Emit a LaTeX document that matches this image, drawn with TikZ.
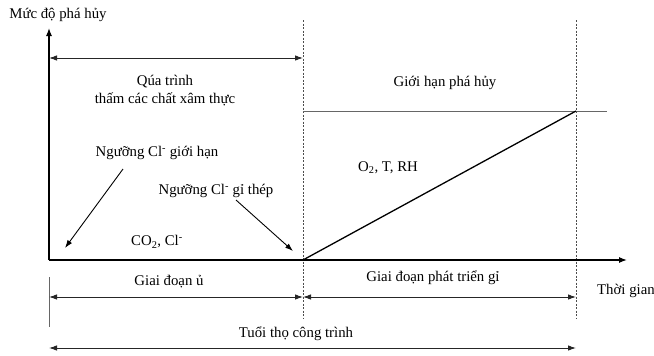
\documentclass[tikz,border=0pt]{standalone}
\usepackage{fontspec}
\setmainfont{Liberation Serif}
\usetikzlibrary{arrows.meta}
\tikzset{
  axis/.style={line width=1.3pt, -{Latex[length=8pt,width=6pt]}},
  span/.style={line width=0.9pt, draw=black!85, {Latex[length=8pt,width=5.5pt]}-{Latex[length=8pt,width=5.5pt]}},
  guide/.style={dash pattern=on 2pt off 1.5pt, draw=black!70, line width=1pt},
  pointer/.style={line width=0.9pt, -{Latex[length=8pt,width=5.5pt]}},
  lbl/.style={font=\fontsize{14.8}{18}\selectfont, inner sep=0pt, align=center}
}
\begin{document}
\begin{tikzpicture}[x=1pt,y=-1pt]
  \useasboundingbox (0,0) rectangle (654,356);
  % frame points
  \coordinate (O) at (49,260);
  \coordinate (ytop) at (49,28);
  \coordinate (xend) at (627,260);
  \coordinate (d1top) at (303,20);
  \coordinate (d1bot) at (303,318);
  \coordinate (d2top) at (576,20);
  \coordinate (d2bot) at (576,318);
  \coordinate (start) at (303,260);
  \coordinate (limit) at (576,111);
  \coordinate (limend) at (607,111);
  \coordinate (limbeg) at (303,111);
  % labels
  \draw
    (58,15) node[lbl] (ylabel) {Mức độ phá hủy}
    (165,91) node[lbl] (soak) {Qúa trình\\thấm các chất xâm thực}
    (445,83) node[lbl] (damage) {Giới hạn phá hủy}
    (157,153) node[lbl] (clmax) {Ngưỡng Cl\textsuperscript{-} giới hạn}
    (216,191) node[lbl] (clrust) {Ngưỡng Cl\textsuperscript{-} gỉ thép}
    (157,242) node[lbl] (co2) {CO\textsubscript{2}, Cl\textsuperscript{-}}
    (388,168) node[lbl] (o2) {O\textsubscript{2}, T, RH}
    (169,282) node[lbl] (incub) {Giai đoạn ủ}
    (433,278) node[lbl] (growth) {Giai đoạn phát triển gỉ}
    (597,291) node[lbl, anchor=west] (time) {Thời gian}
    (296,334) node[lbl] (life) {Tuổi thọ công trình};
  % pointer ends
  \coordinate (p1s) at (123,169);
  \coordinate (p1e) at (65,248);
  \coordinate (p2s) at (236,200);
  \coordinate (p2e) at (293,251);
  % span ends
  \coordinate (a1) at (49,58);
  \coordinate (a2) at (303,58);
  \coordinate (b1) at (49,297);
  \coordinate (b2) at (303,297);
  \coordinate (b3) at (576,297);
  \coordinate (c1) at (49,348);
  \coordinate (c2) at (576,348);
  \coordinate (t1) at (49,277);
  \coordinate (t2) at (49,327);
  \begin{scope}
    \draw[guide] (d1top) -- (d1bot);
    \draw[guide] (d2top) -- (d2bot);
    \draw[draw=black!60, line width=1pt] (limbeg) -- (limend);
    \draw[draw=black!60, line width=1pt] (t1) -- (t2);
    \draw[axis] (O) -- (ytop);
    \draw[axis] (O) -- (xend);
    \draw[line width=1.3pt] (start) -- (limit);
    \draw[span] (a1) -- (a2);
    \draw[span] (b1) -- (b2);
    \draw[span] (b2) -- (b3);
    \draw[span] (c1) -- (c2);
    \draw[pointer] (p1s) -- (p1e);
    \draw[pointer] (p2s) -- (p2e);
  \end{scope}
\end{tikzpicture}
\end{document}
